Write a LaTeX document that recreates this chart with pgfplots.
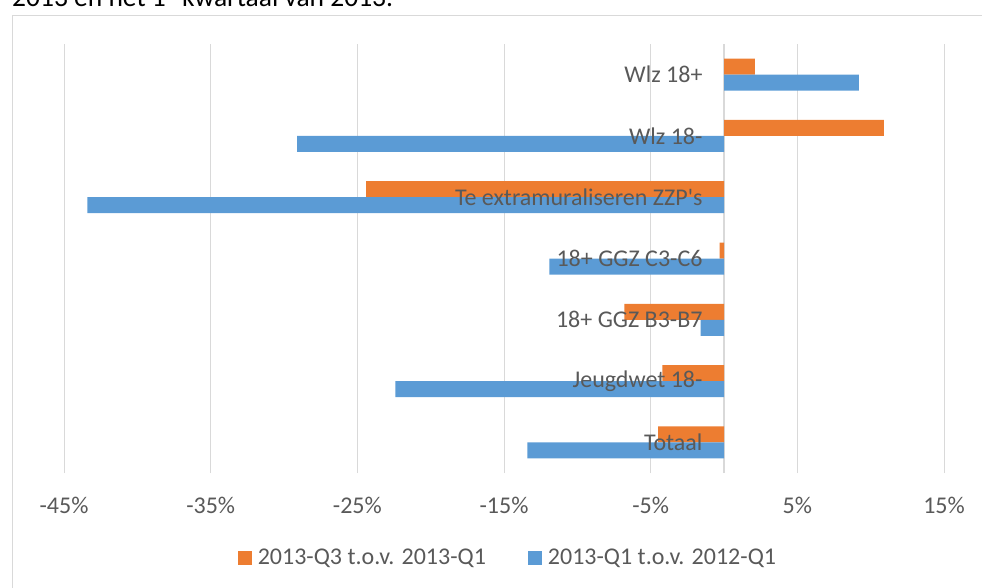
\documentclass[border=0pt]{standalone}
\usepackage{pgfplots}
\pgfplotsset{compat=1.18}
\usepackage{fontspec}
\setmainfont{Carlito}

\definecolor{barorange}{RGB}{237,125,49}
\definecolor{barblue}{RGB}{91,155,213}
\definecolor{txtgray}{RGB}{89,89,89}
\definecolor{gridgray}{RGB}{217,217,217}

\pgfplotsset{
  sqlegend/.style={legend image code/.code={
    \fill[##1] (0pt,-7pt) rectangle (14pt,7pt);
    \path (18pt,0pt);}},
  chartbox/.style={
    at={(64pt,114pt)}, anchor=south west,
    width=880pt, height=429pt, scale only axis,
    xmin=-45, xmax=15, ymin=-0.5, ymax=6.5,
    major tick length=0pt,
    tick label style={font=\fontsize{24}{28}\selectfont, text=txtgray},
  },
}

\begin{document}
\begin{tikzpicture}[x=1pt,y=1pt]
% chart frame (cut off at right and bottom)
\draw[gridgray, line width=1.3pt] (12.5,-20) -- (12.5,571.5) -- (1000,571.5);
% caption line above the chart, mostly cut off
\node[anchor=base west, inner sep=0pt] at (12,580)
  {\fontsize{27.5}{32}\selectfont 2013 en het 1\textsuperscript{e} kwartaal van 2013.};

% bars, grid and x ticks
\begin{axis}[
    chartbox,
    xbar, bar width=16pt,
    axis line style={draw=none},
    xtick={-45,-35,...,15},
    xticklabels={-45\%,-35\%,-25\%,-15\%,-5\%,5\%,15\%},
    ytick=\empty,
    xmajorgrids, grid style={gridgray, line width=1pt},
    extra x ticks={0}, extra x tick labels={},
    extra x tick style={grid=major, major grid style={gridgray, line width=1.3pt}},
    xticklabel style={yshift=-21pt},
    legend columns=2,
    legend style={at={(axis description cs:0.5045,-0.198)}, anchor=center,
      draw=none, fill=none, font=\fontsize{24}{28}\selectfont, text=txtgray,
      nodes={inner sep=2pt},
      /tikz/every even column/.append style={column sep=40pt}},
]
\addplot[fill=barorange, draw=none, bar shift=8pt, sqlegend] coordinates {
  (-4.5,0) (-4.2,1) (-6.8,2) (-0.3,3) (-24.4,4) (10.9,5) (2.1,6)
};
\addlegendentry{2013-Q3 t.o.v. 2013-Q1}
\addplot[fill=barblue, draw=none, bar shift=-8pt, sqlegend] coordinates {
  (-13.4,0) (-22.4,1) (-1.6,2) (-11.9,3) (-43.4,4) (-29.1,5) (9.2,6)
};
\addlegendentry{2013-Q1 t.o.v. 2012-Q1}
\end{axis}

% category labels on top of the bars, next to the zero line
\begin{axis}[
    chartbox,
    axis x line=none, axis y line*=middle,
    axis line style={draw=none},
    hide obscured y ticks=false,
    ytick={0,...,6},
    yticklabels={Totaal,Jeugdwet 18-,18+ GGZ B3-B7,18+ GGZ C3-C6,Te extramuraliseren ZZP\textquotesingle s,Wlz 18-,Wlz 18+},
    yticklabel style={anchor=east, xshift=-18pt},
]
\end{axis}
\pgfresetboundingbox
\useasboundingbox (0,0) rectangle (982,587);
\end{tikzpicture}
\end{document}
